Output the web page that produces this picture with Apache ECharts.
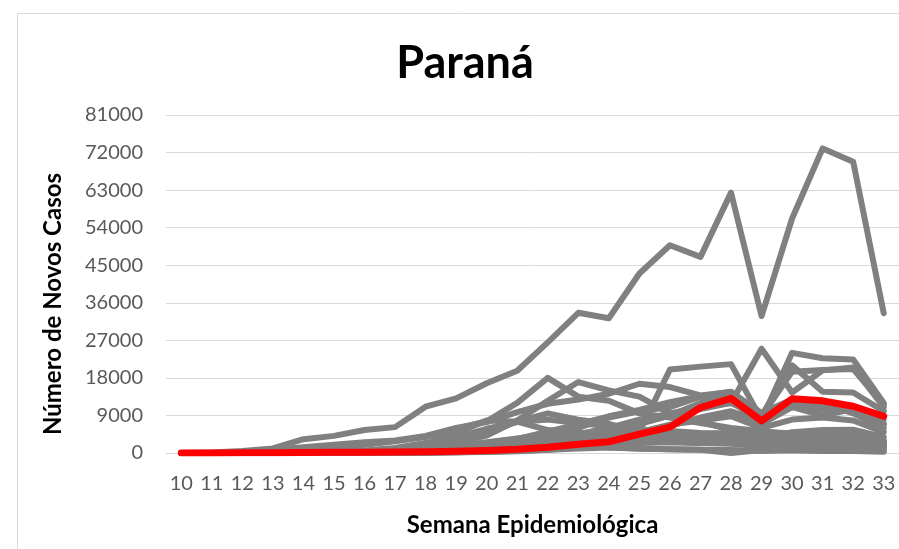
<!DOCTYPE html>
<html>
<head>
<meta charset="utf-8">
<script src="https://cdn.jsdelivr.net/npm/echarts@6/dist/echarts.min.js"></script>
<style>
html,body{margin:0;padding:0;background:#fff;}
#chart{width:899px;height:549px;}
</style>
</head>
<body>
<div id="chart"></div>
<script>
// Semana epidemiológica (categories)
const weeks = ['10','11','12','13','14','15','16','17','18','19','20','21','22','23','24','25','26','27','28','29','30','31','32','33'];
const yTicks = [0, 9000, 18000, 27000, 36000, 45000, 54000, 63000, 72000, 81000];

// Paraná (red)
const parana = [0,10,30,60,100,150,200,250,300,400,600,900,1400,2100,2700,4500,6200,10900,13100,7700,13000,12500,11200,8800];

// Other states (gray)
const g01 = [0,100,500,1100,3300,4100,5500,6200,11100,13100,16700,19700,26500,33600,32300,43000,49800,47000,62400,32800,56200,73000,69800,33500];
const g02 = [0,0,10,40,80,150,250,400,700,1100,1600,2400,3300,4200,4600,5000,20000,20700,21300,8000,24000,22700,22400,12000];
const g03 = [0,0,20,60,120,200,300,450,700,1000,1500,2200,3200,4500,6000,8000,9500,11000,12000,25000,14500,19800,20500,11000];
const g04 = [0,0,10,20,50,80,120,200,350,600,900,1400,2200,3500,5000,7000,9000,12000,14000,9000,21000,14700,14500,10000];
const g05 = [0,10,80,300,700,1200,2000,2800,3800,5800,7600,12000,18000,13500,12500,9500,8500,7200,6000,5200,4600,4200,3600,2200];
const g06 = [0,0,0,10,40,100,250,600,1200,2500,4200,7800,12500,17000,15000,13500,9500,7500,5500,3800,4800,4300,3900,2600];
const g07 = [0,30,250,700,1400,2000,2600,3000,4100,6000,7400,9800,11800,12800,14200,16600,15800,13800,14600,9600,12800,11800,10800,6800];
const g08 = [0,0,20,90,180,300,480,700,1000,1500,2100,3400,5100,6900,8800,10300,12200,13600,14700,8800,19500,19900,20100,11600];
const g09 = [0,10,80,150,200,250,300,400,600,900,1300,2200,4000,6000,8500,10000,11000,13500,12500,7000,11000,12000,9500,6000];
const g10 = [0,0,20,60,150,200,200,250,400,500,700,1200,2000,3500,5500,7000,9000,10500,12000,8500,11500,10500,10000,7000];
const g11 = [0,0,10,50,100,150,200,250,350,450,700,1000,1500,2500,3500,5000,6500,8500,10000,7500,11000,9000,10500,8000];
const g12 = [0,0,0,10,40,150,400,900,1800,3000,5000,7500,9500,8000,7000,5000,4500,3500,3500,2500,3500,3000,2800,2000];
const g13 = [0,0,10,50,150,300,600,1200,2400,3800,5800,7400,8000,7200,6400,5600,5000,4600,4200,3000,4000,3800,3500,2500];
const g14 = [0,0,0,10,30,80,300,900,2200,4800,7800,7500,5500,4800,4000,3200,3000,2800,2500,1800,2500,2700,2800,2000];
const g15 = [0,0,10,40,100,200,350,600,1000,1700,2600,3500,4400,4800,4900,5200,5000,4600,4800,3500,5000,5500,5600,3800];
const g16 = [0,0,0,5,10,20,40,80,150,300,600,1000,1800,2800,3800,5000,6800,7800,8800,6000,8000,8500,7800,5000];
const g17 = [0,0,0,5,20,50,120,250,500,1000,1800,2800,3800,4600,4900,5100,5300,4800,4500,3500,3800,3500,3200,2000];
const g18 = [0,0,0,5,15,40,80,150,300,600,1000,1600,2400,3200,3800,4200,4600,4400,4600,3200,4000,4200,4000,2800];
const g19 = [0,0,5,20,60,100,150,250,400,700,1200,2000,2800,3500,4000,4400,4000,3500,2800,2000,2500,2200,2000,1200];
const g20 = [0,0,0,10,20,30,60,120,300,600,1100,1900,2800,3600,4200,4600,4300,3800,3500,2500,3000,2800,2600,1600];
const g21 = [0,0,0,5,15,40,100,200,500,900,1500,2400,3200,3800,3500,3000,2700,2400,2200,1600,2000,1800,1700,1000];
const g22 = [0,0,0,0,10,20,40,80,150,300,500,900,1400,2000,2600,3200,3600,3400,3800,2600,3200,3000,2800,1800];
const g23 = [0,0,0,0,5,10,20,40,80,150,300,600,1000,1500,2000,2400,2600,2400,2900,2000,2600,2800,2500,1600];
const g24 = [0,0,5,10,20,30,40,50,80,150,250,400,800,1300,1800,2500,3100,3600,4200,3000,4500,4800,4300,3000];
const g25 = [0,0,0,5,20,50,120,250,500,800,1100,1600,1900,1700,1400,1100,900,800,700,500,700,900,1000,600];
const g26 = [0,0,0,0,5,10,20,50,100,200,350,500,800,1100,1300,1000,900,800,0,700,600,500,500,300];

const grayList = [g01,g02,g03,g04,g05,g06,g07,g08,g09,g10,g11,g12,g13,g14,g15,g16,g17,g18,g19,g20,g21,g22,g23,g24,g25,g26];

const FONT = 'Lato, "Open Sans", sans-serif';
const series = grayList.map((d, i) => ({
  type: 'line', data: d, symbol: 'none', silent: true, z: 2,
  lineStyle: {color: '#808080', width: 6, cap: 'round', join: 'round'}
}));
series.push({
  type: 'line', name: 'Paraná', data: parana, symbol: 'none', silent: true, z: 5,
  lineStyle: {color: '#ff0000', width: 7, cap: 'round', join: 'round'}
});

const chart = echarts.init(document.getElementById('chart'), null, {renderer: 'canvas'});
chart.setOption({
  animation: false,
  backgroundColor: '#ffffff',
  graphic: [
    {type: 'rect', shape: {x: 17.5, y: 13.5, width: 1000, height: 1000}, style: {fill: 'none', stroke: '#d9d9d9', lineWidth: 1}, z: -10},
    {type: 'text', x: 465, y: 63, style: {text: 'Paraná', font: 'bold 45px ' + FONT, fill: '#000000', align: 'center', verticalAlign: 'middle'}},
    {type: 'text', x: 53, y: 304, rotation: Math.PI / 2, style: {text: 'Número de Novos Casos', font: 'bold 24px ' + FONT, fill: '#000000', align: 'center', verticalAlign: 'middle'}}
  ],
  grid: {left: 166, right: 0, top: 115, bottom: 96},
  xAxis: {
    type: 'category', data: weeks, boundaryGap: true,
    name: 'Semana Epidemiológica', nameLocation: 'middle', nameGap: 60,
    nameTextStyle: {fontFamily: FONT, fontWeight: 'bold', fontSize: 24, color: '#000000'},
    axisLine: {lineStyle: {color: '#d9d9d9', width: 1}},
    axisTick: {show: false},
    axisLabel: {fontFamily: FONT, fontSize: 20, color: '#595959', margin: 21, interval: 0}
  },
  yAxis: {
    type: 'value', min: yTicks[0], max: yTicks[yTicks.length - 1], interval: yTicks[1] - yTicks[0],
    axisLine: {show: false}, axisTick: {show: false},
    splitLine: {lineStyle: {color: '#d9d9d9', width: 1}},
    axisLabel: {fontFamily: FONT, fontSize: 20, color: '#595959', margin: 23, formatter: (v) => String(v)}
  },
  series: series
});
</script>
</body>
</html>
